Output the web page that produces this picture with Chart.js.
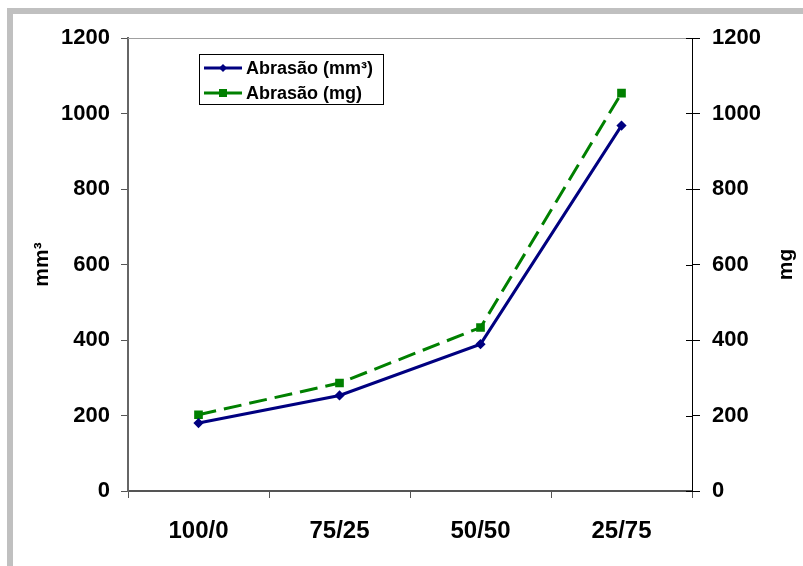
<!DOCTYPE html>
<html>
<head>
<meta charset="utf-8">
<script src="https://cdn.jsdelivr.net/npm/chart.js@4/dist/chart.umd.min.js"></script>
<style>
  html, body { margin:0; padding:0; background:#fff; }
  body { width:803px; height:566px; position:relative; overflow:hidden; font-family:"Liberation Sans", Arial, sans-serif; }
  #frame { position:absolute; left:7px; top:8px; width:900px; height:700px; border-top:6px solid #c0c0c0; border-left:6px solid #c0c0c0; box-sizing:border-box; }
  #wrap { position:absolute; left:0; top:0; width:803px; height:566px; }
</style>
</head>
<body>
<div id="frame"></div>
<div id="wrap"><canvas id="c" width="803" height="566"></canvas></div>
<script>
const categories = ['100/0', '75/25', '50/50', '25/75'];
const abrasaoMm3 = [180, 253, 389, 968];
const abrasaoMg = [202, 286, 433, 1054];
const seriesLabels = ['Abrasão (mm³)', 'Abrasão (mg)'];
const axisTitles = ['mm³', 'mg'];
const yTickValues = [0, 200, 400, 600, 800, 1000, 1200];

const FONT = '"Liberation Sans", Arial, sans-serif';

const legendPlugin = {
  id: 'boxLegend',
  afterDraw(chart) {
    const ctx = chart.ctx;
    const x0 = 199, y0 = 54, w = 184, h = 50;
    ctx.save();
    ctx.fillStyle = '#fff';
    ctx.fillRect(x0, y0, w, h);
    ctx.strokeStyle = '#000';
    ctx.lineWidth = 1;
    ctx.strokeRect(x0 + 0.5, y0 + 0.5, w, h);
    chart.data.datasets.forEach((ds, i) => {
      const cy = y0 + 14 + i * 25;
      ctx.strokeStyle = ds.borderColor;
      ctx.lineWidth = ds.borderWidth;
      ctx.setLineDash([]);
      ctx.beginPath();
      ctx.moveTo(204, cy);
      ctx.lineTo(242, cy);
      ctx.stroke();
      ctx.fillStyle = ds.pointBackgroundColor;
      if (ds.pointStyle === 'rect') {
        ctx.fillRect(219, cy - 4, 8, 8);
      } else {
        ctx.beginPath();
        ctx.moveTo(223, cy - 4); ctx.lineTo(227, cy); ctx.lineTo(223, cy + 4); ctx.lineTo(219, cy);
        ctx.closePath(); ctx.fill();
      }
      ctx.fillStyle = '#000';
      ctx.font = 'bold 18px ' + FONT;
      ctx.textBaseline = 'middle';
      ctx.textAlign = 'left';
      ctx.fillText(ds.label, 246, cy + 1);
    });
    ctx.restore();
  }
};

const framePlugin = {
  id: 'plotFrame',
  beforeDatasetsDraw(chart) {
    const {ctx, chartArea} = chart;
    ctx.save();
    ctx.strokeStyle = '#a0a0a0';
    ctx.lineWidth = 1;
    ctx.beginPath();
    ctx.moveTo(chartArea.left, chartArea.top + 0.5);
    ctx.lineTo(chartArea.right, chartArea.top + 0.5);
    ctx.stroke();
    const s = chart.scales.y1;
    ctx.strokeStyle = '#000';
    s.ticks.forEach(t => {
      const py = Math.round(s.getPixelForValue(t.value)) + 0.5;
      ctx.beginPath();
      ctx.moveTo(chartArea.right - 6, py);
      ctx.lineTo(chartArea.right, py);
      ctx.stroke();
    });
    // right axis title, reading upward like the left one
    ctx.fillStyle = '#000';
    ctx.font = 'bold 21px ' + FONT;
    ctx.textAlign = 'center';
    ctx.textBaseline = 'middle';
    ctx.translate(786, (chartArea.top + chartArea.bottom) / 2);
    ctx.rotate(-Math.PI / 2);
    ctx.fillText(axisTitles[1], 0, 0);
    ctx.restore();
  }
};

const fmt = v => String(v);

new Chart(document.getElementById('c'), {
  type: 'line',
  data: {
    labels: categories,
    datasets: [
      {
        label: seriesLabels[0],
        data: abrasaoMm3,
        yAxisID: 'y',
        borderColor: '#000080',
        backgroundColor: '#000080',
        pointBackgroundColor: '#000080',
        pointBorderColor: '#000080',
        borderWidth: 3,
        pointStyle: 'rectRot',
        pointRadius: 3,
        tension: 0,
        fill: false
      },
      {
        label: seriesLabels[1],
        data: abrasaoMg,
        yAxisID: 'y1',
        borderColor: '#008000',
        backgroundColor: '#008000',
        pointBackgroundColor: '#008000',
        pointBorderColor: '#008000',
        borderWidth: 3,
        borderDash: [18, 8],
        pointStyle: 'rect',
        pointRadius: 4,
        tension: 0,
        fill: false
      }
    ]
  },
  options: {
    responsive: false,
    animation: false,
    layout: { padding: { top: 38, left: 0, right: 0, bottom: 0 } },
    plugins: { legend: { display: false }, tooltip: { enabled: false } },
    scales: {
      x: {
        type: 'category',
        offset: true,
        grid: { offset: true, drawOnChartArea: false, tickLength: 7, color: '#555', lineWidth: 1 },
        border: { color: '#555', width: 2 },
        ticks: { color: '#000', font: { family: FONT, size: 24, weight: 'bold' }, padding: 19, maxRotation: 0 },
        afterFit(s) { s.height = 75; }
      },
      y: {
        position: 'left',
        min: 0, max: 1200,
        afterBuildTicks(s) { s.ticks = yTickValues.map(v => ({ value: v })); },
        grid: { drawOnChartArea: false, tickLength: 7, color: '#555' },
        border: { color: '#666', width: 2 },
        ticks: { color: '#000', font: { family: FONT, size: 22, weight: 'bold' }, padding: 11, callback: fmt },
        title: { display: true, text: axisTitles[0], color: '#000', font: { family: FONT, size: 21, weight: 'bold' }, padding: { top: 30, bottom: 0 } },
        afterFit(s) { s.width = 128; }
      },
      y1: {
        position: 'right',
        min: 0, max: 1200,
        afterBuildTicks(s) { s.ticks = yTickValues.map(v => ({ value: v })); },
        grid: { drawOnChartArea: false, tickLength: 8, color: '#000' },
        border: { color: '#000', width: 1 },
        ticks: { color: '#000', font: { family: FONT, size: 22, weight: 'bold' }, padding: 12, callback: fmt },
        title: { display: false },
        afterFit(s) { s.width = 111; }
      }
    }
  },
  plugins: [framePlugin, legendPlugin]
});
</script>
</body>
</html>
